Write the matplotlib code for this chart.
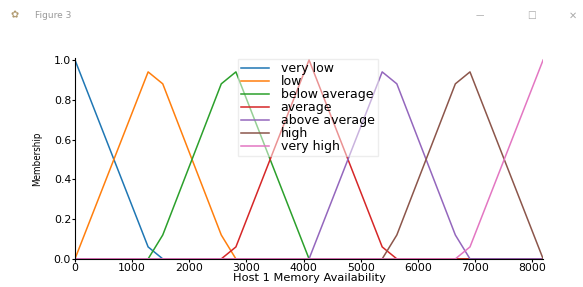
import matplotlib
matplotlib.use('Agg')
import matplotlib.pyplot as plt

labels = ['very low', 'low', 'below average', 'average',
          'above average', 'high', 'very high']

# kink points of each membership curve
very_low_x = [0, 1280, 1536, 8192]
very_low_y = [1.0, 0.06, 0.0, 0.0]
low_x = [0, 1280, 1536, 2560, 2816, 8192]
low_y = [0.0, 0.94, 0.88, 0.12, 0.0, 0.0]
below_x = [0, 1280, 1536, 2560, 2816, 4096, 8192]
below_y = [0.0, 0.0, 0.12, 0.88, 0.94, 0.0, 0.0]
average_x = [0, 2560, 2816, 4096, 5376, 5632, 8192]
average_y = [0.0, 0.0, 0.06, 1.0, 0.06, 0.0, 0.0]
above_x = [0, 4096, 5376, 5632, 6656, 6912, 8192]
above_y = [0.0, 0.0, 0.94, 0.88, 0.12, 0.0, 0.0]
high_x = [0, 5376, 5632, 6656, 6912, 8192]
high_y = [0.0, 0.0, 0.12, 0.88, 0.94, 0.0]
very_high_x = [0, 6656, 6912, 8192]
very_high_y = [0.0, 0.0, 0.06, 1.0]

series = [(very_low_x, very_low_y), (low_x, low_y), (below_x, below_y),
          (average_x, average_y), (above_x, above_y), (high_x, high_y),
          (very_high_x, very_high_y)]

fig = plt.figure(figsize=(5.83, 2.87), dpi=100)
ax = fig.add_axes([0.1286, 0.098, 0.803, 0.70])

for (xs, ys), lab in zip(series, labels):
    ax.plot(xs, ys, linewidth=1.1, label=lab)

ax.set_xlim(0, 8192)
ax.set_ylim(0, 1.01)
ax.set_xticks([0, 1000, 2000, 3000, 4000, 5000, 6000, 7000, 8000])
ax.set_yticks([0.0, 0.2, 0.4, 0.6, 0.8, 1.0])
ax.tick_params(labelsize=7.8, direction='out', length=2, pad=0.8)
ax.spines['top'].set_visible(False)
ax.spines['right'].set_visible(False)
ax.set_xlabel('Host 1 Memory Availability', fontsize=8.2, labelpad=0.3)
ax.set_ylabel('Membership', fontsize=7, labelpad=8, fontstretch='condensed')

ax.legend(loc='upper center', bbox_to_anchor=(0.497, 1.025), framealpha=0.5,
          fontsize=9, labelspacing=0.0, handlelength=2.3, handletextpad=0.9,
          borderpad=0.25, fancybox=False, edgecolor='#dddddd')

# window title bar
fig.text(0.06, 0.945, 'Figure 3', fontsize=6.5, color='#999999', va='center')
fig.text(0.018, 0.945, '✿', fontsize=7, color='#b09a70', va='center')
fig.text(0.815, 0.945, '—', fontsize=6, color='#aaaaaa', va='center')
fig.text(0.905, 0.945, '☐', fontsize=7, color='#aaaaaa', va='center')
fig.text(0.975, 0.945, '✕', fontsize=7, color='#aaaaaa', va='center')

fig.savefig('out.png', dpi=100)
